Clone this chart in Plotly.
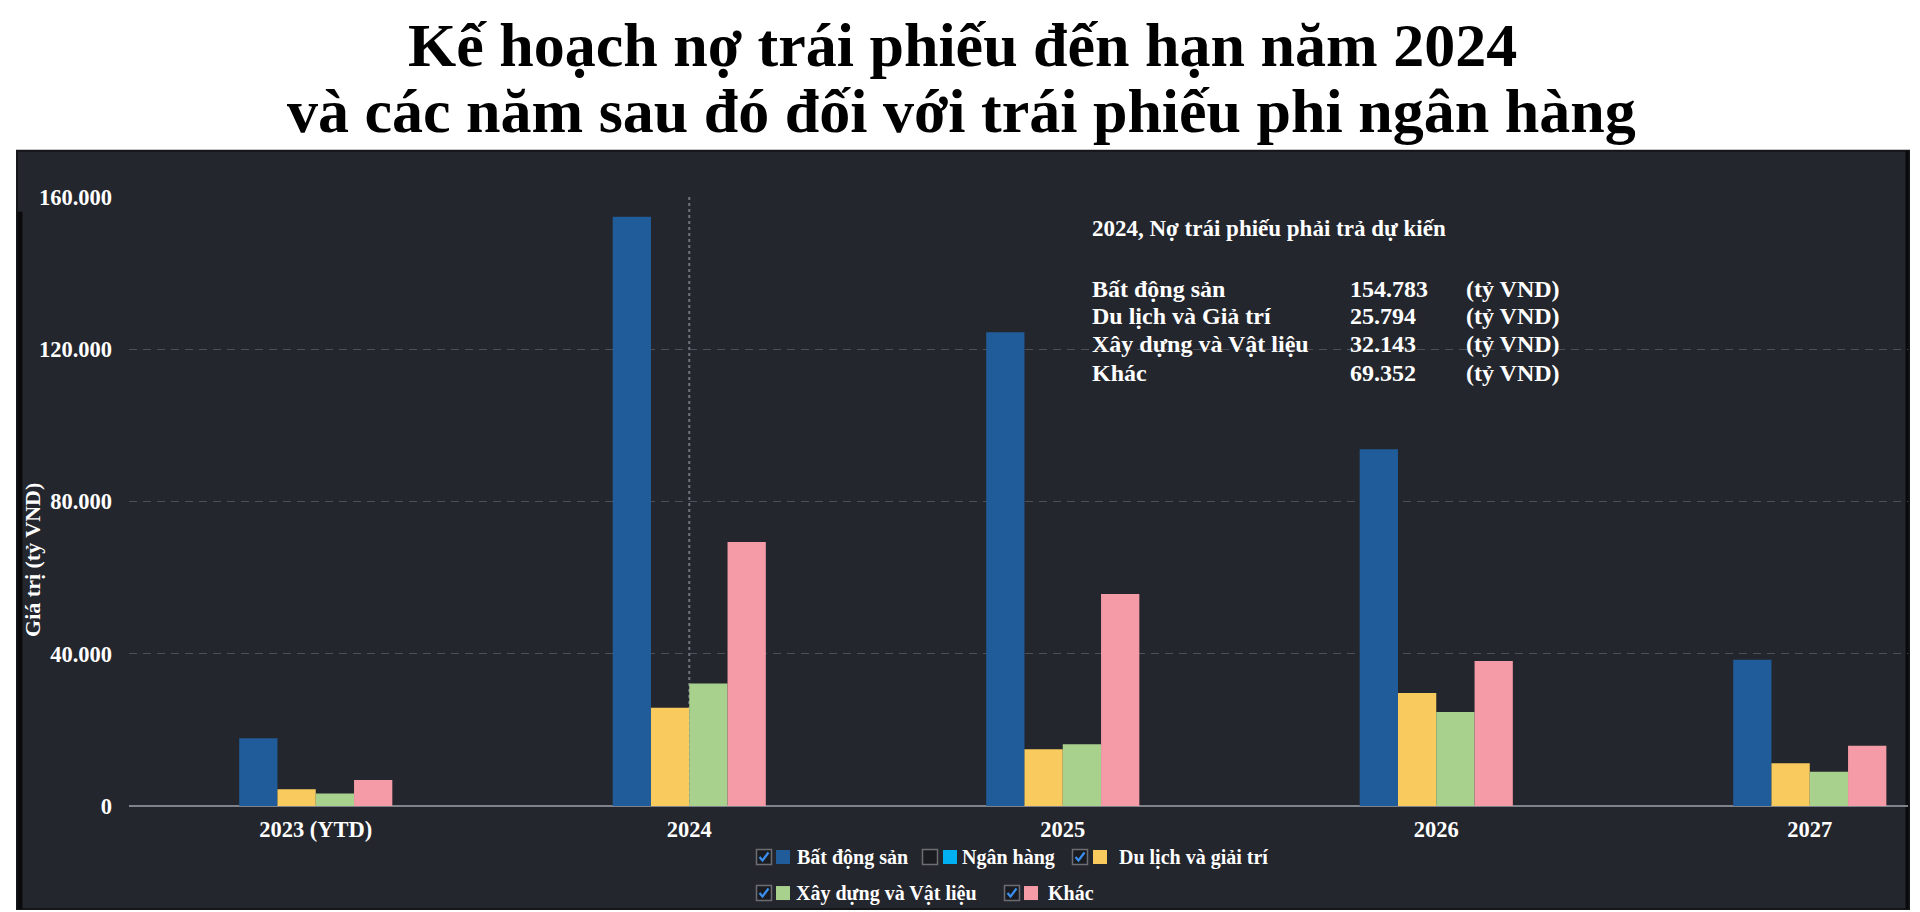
import plotly.graph_objects as go

# ---------------- data ----------------
categories = ["2023 (YTD)", "2024", "2025", "2026", "2027"]
series_names = ["Bất động sản", "Ngân hàng", "Du lịch và giải trí", "Xây dựng và Vật liệu", "Khác"]
series_colors = ["#1f5c99", "#00b0f0", "#f9cb5e", "#a9d18e", "#f59ba8"]
series_checked = [True, False, True, True, True]

bat_dong_san = [17800, 154783, 124400, 93700, 38400]
du_lich = [4400, 25794, 14900, 29700, 11200]
xay_dung = [3300, 32143, 16200, 24700, 9000]
khac = [6800, 69352, 55700, 38100, 15800]

y_ticks = [0, 40000, 80000, 120000, 160000]
pointer_category = "2024"

title_lines = ["Kế hoạch nợ trái phiếu đến hạn năm 2024",
               "và các năm sau đó đối với trái phiếu phi ngân hàng"]
y_title = "Giá trị (tỷ VND)"

box_title = "2024, Nợ trái phiếu phải trả dự kiến"
box_labels = ["Bất động sản", "Du lịch và Giả trí", "Xây dựng và Vật liệu", "Khác"]
box_values = [154783, 25794, 32143, 69352]
box_unit = "(tỷ VND)"

# ---------------- layout geometry (page pixels) ----------------
W, H = 1920, 912
OFF = 8  # default body margin of the html page
Y_MAX = 160200
L, R, B = 129, 1908, 806
T = B - 609 * Y_MAX / 160000
PW, PH = R - L, B - T

def xp(px):
    return (px - L) / PW

def yp(py):
    return (B - py) / PH

FONT = "Liberation Serif, Times New Roman, serif"
WHITE = "#ffffff"

fig = go.Figure()

plot_series = [
    (series_names[0], bat_dong_san, series_colors[0]),
    (series_names[2], du_lich, series_colors[2]),
    (series_names[3], xay_dung, series_colors[3]),
    (series_names[4], khac, series_colors[4]),
]
for name, vals, col in plot_series:
    fig.add_trace(go.Bar(
        x=categories, y=vals, name=name,
        marker=dict(color=col, line=dict(width=0)),
        showlegend=False, hoverinfo="x+y+name",
    ))

shapes = []
# dark panel
shapes.append(dict(type="rect", xref="paper", yref="paper", layer="below",
                   x0=xp(17), x1=xp(1909), y0=yp(909), y1=yp(151),
                   fillcolor="#24262d", line=dict(color="#15161a", width=2)))
shapes.append(dict(type="line", xref="paper", yref="paper", layer="below",
                   x0=xp(20), x1=xp(20), y0=yp(909), y1=yp(212),
                   line=dict(color="#0a0a0c", width=5)))
shapes.append(dict(type="line", xref="paper", yref="paper", layer="below",
                   x0=xp(1907), x1=xp(1907), y0=yp(909), y1=yp(151),
                   line=dict(color="#0a0a0c", width=3)))
# axis pointer (dotted) at 2024 -- category index on the category axis
pidx = categories.index(pointer_category)
shapes.append(dict(type="line", xref="x", yref="y", layer="between",
                   x0=pidx, x1=pidx, y0=0, y1=y_ticks[-1],
                   line=dict(color="#70737b", width=2, dash="dot")))

annotations = []
# title
for line, cx, cy in zip(title_lines, [962, 961], [45, 111]):
    annotations.append(dict(text=line, xref="paper", yref="paper",
                            x=xp(cx), y=yp(cy), xanchor="center", yanchor="middle",
                            showarrow=False,
                            font=dict(family=FONT, size=62, color="#000000", weight="bold")))
# y-axis title
annotations.append(dict(text=y_title, xref="paper", yref="paper", textangle=-90,
                        x=xp(33), y=yp(560), xanchor="center", yanchor="middle",
                        showarrow=False, font=dict(family=FONT, size=22, color=WHITE, weight="bold")))

# info box
box_font = dict(family=FONT, size=24, color=WHITE, weight="bold")
annotations.append(dict(text=box_title, xref="paper", yref="paper", x=xp(1090), y=yp(229),
                        xanchor="left", yanchor="middle", showarrow=False,
                        font=dict(family=FONT, size=23, color=WHITE, weight="bold")))
row_y = [289, 316, 344, 373]
for lab, val, ry in zip(box_labels, box_values, row_y):
    annotations.append(dict(text=lab, xref="paper", yref="paper", x=xp(1090), y=yp(ry),
                            xanchor="left", yanchor="middle", showarrow=False, font=box_font))
    annotations.append(dict(text=f"{val:,}".replace(",", "."), xref="paper", yref="paper",
                            x=xp(1348), y=yp(ry), xanchor="left", yanchor="middle",
                            showarrow=False, font=box_font))
    annotations.append(dict(text=box_unit, xref="paper", yref="paper", x=xp(1464), y=yp(ry),
                            xanchor="left", yanchor="middle", showarrow=False, font=box_font))

# custom legend (checkbox + swatch + label)
legend_pos = [(764, 857), (930, 857), (1080, 857), (764, 893), (1012, 893)]
legend_text_x = [795, 960, 1117, 794, 1046]
legend_swatch_x = [783, 950, 1100, 783, 1031]
leg_font = dict(family=FONT, size=20, color=WHITE, weight="bold")
for (cx, cy), tx, sx, name, col, chk in zip(legend_pos, legend_text_x, legend_swatch_x,
                                            series_names, series_colors, series_checked):
    shapes.append(dict(type="rect", xref="paper", yref="paper", layer="above",
                       x0=xp(cx - 7.5), x1=xp(cx + 7.5), y0=yp(cy + 7.5), y1=yp(cy - 7.5),
                       fillcolor="#1a1c21", line=dict(color="#6b6d72", width=1.5)))
    if chk:
        path = "M {:.6f},{:.6f} L {:.6f},{:.6f} L {:.6f},{:.6f}".format(
            xp(cx - 4.5), yp(cy), xp(cx - 1.5), yp(cy + 3.5), xp(cx + 4.5), yp(cy - 4.5))
        shapes.append(dict(type="path", xref="paper", yref="paper", layer="above", path=path,
                           line=dict(color="#3a8ff0", width=2.2)))
    shapes.append(dict(type="rect", xref="paper", yref="paper", layer="above",
                       x0=xp(sx - 7), x1=xp(sx + 7), y0=yp(cy + 7), y1=yp(cy - 7),
                       fillcolor=col, line=dict(width=0)))
    annotations.append(dict(text=name, xref="paper", yref="paper", x=xp(tx), y=yp(cy),
                            xanchor="left", yanchor="middle", showarrow=False, font=leg_font))

fig.update_layout(
    width=W, height=H,
    margin=dict(l=L - OFF, r=W - (R - OFF), t=T - OFF, b=H - (B - OFF), pad=0),
    paper_bgcolor="#ffffff",
    plot_bgcolor="rgba(0,0,0,0)",
    barmode="group", bargap=0.59, bargroupgap=0,
    separators=",.",
    showlegend=False,
    shapes=shapes,
    annotations=annotations,
    font=dict(family=FONT, color=WHITE),
    xaxis=dict(
        type="category", categoryorder="array", categoryarray=categories,
        range=[-0.5, 4.263], showgrid=False, zeroline=False, showline=False,
        ticks="", ticklabelstandoff=7,
        tickfont=dict(family=FONT, size=22.5, color=WHITE, weight="bold"),
    ),
    yaxis=dict(
        range=[0, Y_MAX], tickmode="array", tickvals=y_ticks, tickformat=",d",
        showgrid=True, gridcolor="#4d5058", gridwidth=1, griddash="8px,6px",
        zeroline=True, zerolinecolor="#7f828a", zerolinewidth=1.5,
        showline=False, ticks="", ticklabelstandoff=16,
        tickfont=dict(family=FONT, size=22.5, color=WHITE, weight="bold"),
    ),
)

fig.write_html("out.html")
